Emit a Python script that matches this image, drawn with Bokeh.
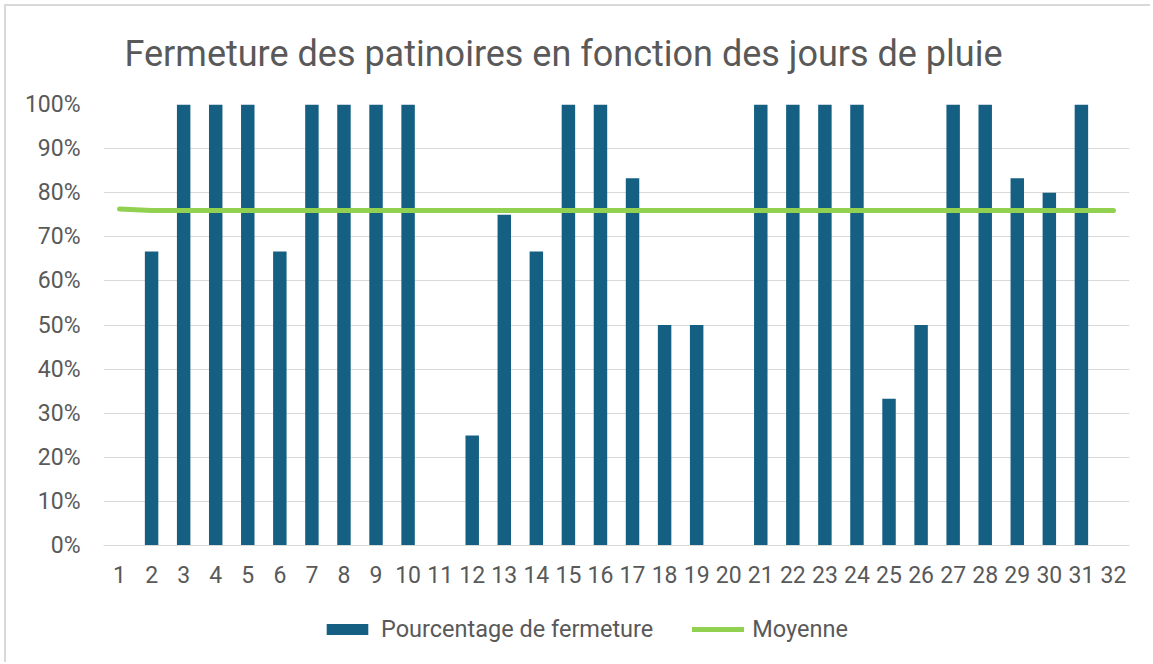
from bokeh.plotting import figure
from bokeh.models import FactorRange, Range1d, NumeralTickFormatter, Legend, LegendItem, ColumnDataSource
from bokeh.embed import file_html
from bokeh.resources import INLINE

days = [str(i) for i in range(1, 33)]
pct_fermeture = [0, 66.7, 100, 100, 100, 66.7, 100, 100, 100, 100, 0, 25, 75, 66.7, 100, 100,
                 83.3, 50, 50, 0, 100, 100, 100, 100, 33.3, 50, 100, 100, 83.3, 80, 100, 0]
moyenne = [76.3] + [76.0] * 31

src = ColumnDataSource(dict(x=days, bar=[v / 100 for v in pct_fermeture], avg=[v / 100 for v in moyenne]))

# frame spans 103..662 vertically; 0% sits at y=545 and 100% at y=103
p = figure(width=1150, height=662, x_range=FactorRange(*days, range_padding=0),
           y_range=Range1d(-117 / 442, 1.0), output_backend="svg", toolbar_location=None,
           min_border_left=103, min_border_right=21, min_border_top=103, min_border_bottom=0)
p.border_fill_color = None
p.background_fill_color = None
p.styles = {"background": "linear-gradient(#d9d9d9, #d9d9d9) 4px 4px / 2px 100% no-repeat, "
                          "linear-gradient(#d9d9d9, #d9d9d9) 4px 4px / 100% 2px no-repeat, white"}

bars = p.vbar(x="x", top="bar", width=0.42, source=src, fill_color="#156082", line_color=None)
line = p.line(x="x", y="avg", source=src, line_color="#92D050", line_width=5, line_cap="round")

p.title.text = "Fermeture des patinoires en fonction des jours de pluie"
p.title.text_font = "Roboto"
p.title.text_font_size = "36px"
p.title.text_font_style = "normal"
p.title.text_color = "#595959"
p.title.align = "left"
p.title.standoff = 60
p.title.offset = 21

p.outline_line_color = None
p.xgrid.grid_line_color = None
p.ygrid.grid_line_color = "#d9d9d9"
p.ygrid.grid_line_width = 1
p.yaxis.ticker = [i / 10 for i in range(11)]
p.yaxis.formatter = NumeralTickFormatter(format="0%")
for ax in (p.xaxis[0], p.yaxis[0]):
    ax.major_tick_line_color = None
    ax.minor_tick_line_color = None
    ax.major_label_text_font = "Roboto"
    ax.major_label_text_font_size = "23px"
    ax.major_label_text_color = "#595959"
p.yaxis.axis_line_color = None
p.yaxis.major_label_standoff = 17
p.xaxis.fixed_location = 0
p.xaxis.axis_line_color = "#d9d9d9"
p.xaxis.axis_line_width = 1
p.xaxis.major_label_standoff = 14

legend = Legend(items=[LegendItem(label="Pourcentage de fermeture", renderers=[bars]),
                       LegendItem(label="Moyenne", renderers=[line])],
                orientation="horizontal", location=(218, 19),
                glyph_width=52, glyph_height=14, label_text_font="Roboto",
                label_text_font_size="23.5px", label_text_color="#595959",
                spacing=39, label_standoff=8, border_line_color=None,
                background_fill_alpha=0, padding=0, margin=0)
p.add_layout(legend, "center")

open("out.html", "w").write(file_html(p, INLINE))
